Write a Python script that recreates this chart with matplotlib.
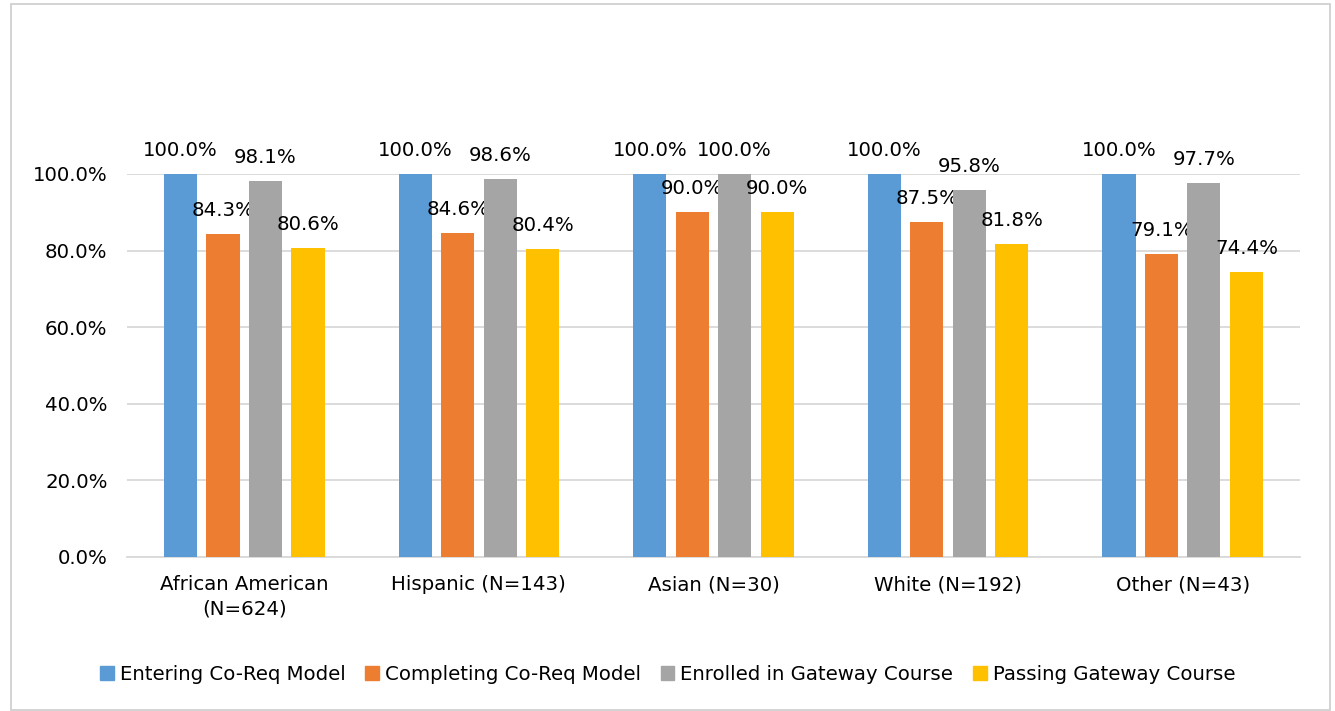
import matplotlib.pyplot as plt
import numpy as np
from matplotlib.patches import Rectangle, Patch

categories = ["African American\n(N=624)", "Hispanic (N=143)", "Asian (N=30)",
              "White (N=192)", "Other (N=43)"]
series_names = ["Entering Co-Req Model", "Completing Co-Req Model",
                "Enrolled in Gateway Course", "Passing Gateway Course"]
entering = [100.0, 100.0, 100.0, 100.0, 100.0]
completing = [84.3, 84.6, 90.0, 87.5, 79.1]
enrolled = [98.1, 98.6, 100.0, 95.8, 97.7]
passing = [80.6, 80.4, 90.0, 81.8, 74.4]
colors = ["#5B9BD5", "#ED7D31", "#A5A5A5", "#FFC000"]

plt.rcParams['font.family'] = ['DejaVu Sans']
fs = 14.2

fig = plt.figure(figsize=(13.35, 7.11), dpi=100)
ax = fig.add_axes([0.0951, 0.2166, 0.8787, 0.5387])

x = np.arange(len(categories))
pitch = 0.181
width = 0.141
for i, (vals, col) in enumerate(zip([entering, completing, enrolled, passing], colors)):
    pos = x + (i - 1.5) * pitch
    ax.bar(pos, np.array(vals) / 100, width=width, color=col, label=series_names[i], zorder=3)
    for px, v in zip(pos, vals):
        ax.annotate('%.1f%%' % v, xy=(px, v / 100), xytext=(0, 10), textcoords='offset points',
                    ha='center', va='bottom', fontsize=fs, color='black', annotation_clip=False)

ax.set_xlim(-0.5, 4.5)
ax.set_ylim(0, 1.0)
ax.set_yticks(np.arange(0, 1.01, 0.2))
ax.set_yticklabels(['%.1f%%' % (t * 100) for t in np.arange(0, 1.01, 0.2)], fontsize=fs)
ax.set_xticks(x)
ax.set_xticklabels(categories, fontsize=fs, linespacing=1.35)
ax.tick_params(axis='x', length=0, pad=13)
ax.tick_params(axis='y', length=0, pad=14)
ax.grid(axis='y', color='#D9D9D9', linewidth=1.3, zorder=0)
for s in ['top', 'right', 'left']:
    ax.spines[s].set_visible(False)
ax.spines['bottom'].set_color('#D9D9D9')
ax.spines['bottom'].set_linewidth(1.3)

handles = [Patch(color=c) for c in colors]
fig.legend(handles, series_names, loc='center', bbox_to_anchor=(0.5, 0.052), ncol=4,
           frameon=False, fontsize=fs, handlelength=0.7, handleheight=0.7,
           handletextpad=0.3, columnspacing=1.0)

fig.patches.append(Rectangle((0.008, 0.002), 0.988, 0.992, transform=fig.transFigure,
                             fill=False, edgecolor='#D0D0D0', linewidth=1.3))

fig.savefig('out.png', dpi=100)
